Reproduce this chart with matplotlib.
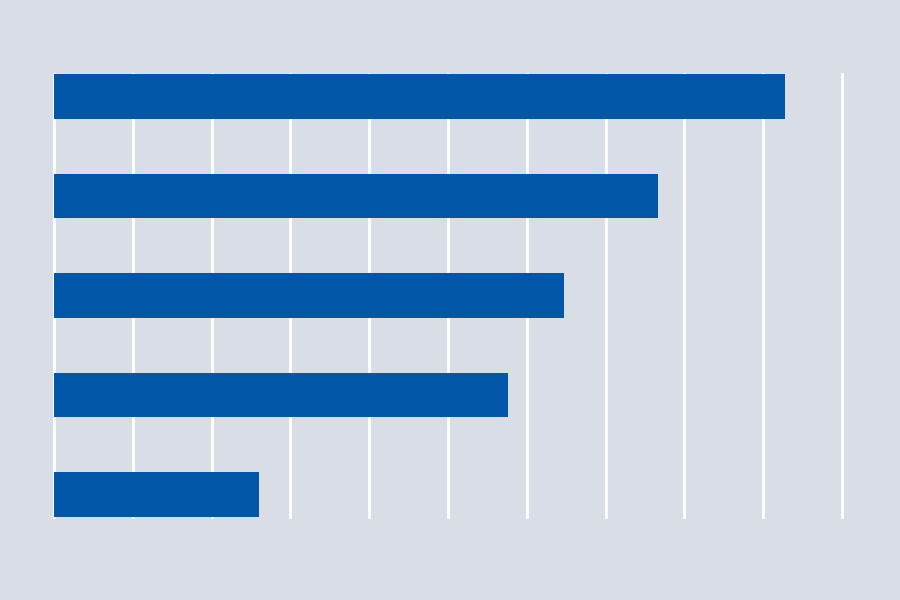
import numpy as np
import matplotlib.pyplot as plt

# bar values, top to bottom (scale 0-100)
categories = ["A", "B", "C", "D", "E"]
values = [92.8, 76.6, 64.7, 57.6, 26.0]

bg = "#d9dee6"
bar_color = "#0057a8"

fig = plt.figure(figsize=(9, 6), dpi=100, facecolor=bg)
ax = fig.add_axes([54 / 900, 83 / 600, 788 / 900, 443 / 600])
ax.set_facecolor(bg)

y = np.arange(len(categories))
ax.barh(y, values, height=0.45, color=bar_color, zorder=2)

ax.set_xlim(0, 100)
ax.set_ylim(len(categories) - 1 + 0.225, -0.225)
ax.set_xticks(np.arange(0, 101, 10))
ax.grid(axis="x", color="white", linewidth=2, zorder=1)
for line in ax.get_xgridlines():
    line.set_clip_on(False)
ax.tick_params(left=False, bottom=False, labelleft=False, labelbottom=False)
for s in ax.spines.values():
    s.set_visible(False)

fig.savefig("out.png", facecolor=bg)
